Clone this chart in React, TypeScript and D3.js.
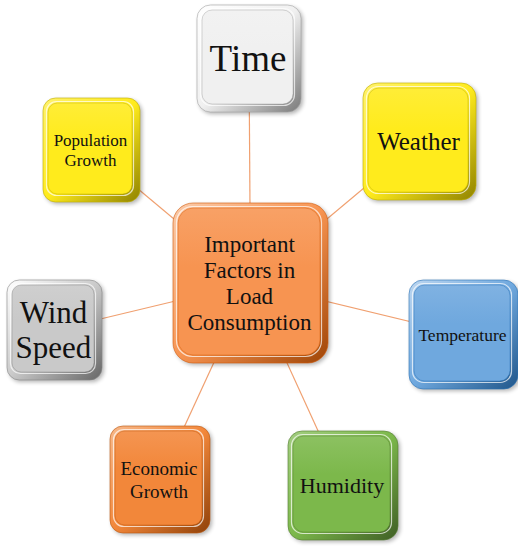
import React from 'react'
import * as d3 from 'd3'

// node labels (first one is the hub)
const labels = [
  ['Important', 'Factors in', 'Load', 'Consumption'],
  ['Time'],
  ['Weather'],
  ['Temperature'],
  ['Humidity'],
  ['Economic', 'Growth'],
  ['Wind', 'Speed'],
  ['Population', 'Growth']
]

const fills = ['#f79451', '#f0f0f0', '#ffeb1c', '#6fa8de', '#7cb84b', '#f2873a', '#c9c9c9', '#ffeb1c']

// box layout: x, y, w, h, font size, line height
const layout = [
  [173, 203, 155, 160, 23, 26],
  [197, 5, 104, 107, 37, 40],
  [363, 83, 113, 117, 25, 28],
  [409, 280, 109, 109, 17.5, 18],
  [288, 431, 110, 109, 22, 22],
  [110, 426, 100, 107, 19, 23],
  [7, 280, 95, 100, 31, 35],
  [43, 98, 97, 104, 17, 20]
]

const width = 518,
  height = 546

const nodes = labels.map((lines, i) => {
  const [x, y, w, h, fs, lh] = layout[i]
  return { lines, fill: fills[i], x, y, w, h, fs, lh, cx: x + w / 2, cy: y + h / 2 }
})

const Box = ({ d, i }) => {
  const light = d3.hsl(d.fill).brighter(0.7).formatHex()
  const dark = d3.hsl(d.fill).darker(1.1).formatHex()
  const darker = d3.hsl(d.fill).darker(1.9).formatHex()
  const faceTop = d3.interpolateRgb(d.fill, '#ffffff')(0.12)
  const r = Math.min(d.w, d.h) * 0.13
  const inset = { l: 5, t: 5, r: 8, b: 8 }
  const textY = d3
    .scaleLinear()
    .domain([0, d.lines.length - 1 || 1])
    .range([d.cy - ((d.lines.length - 1) * d.lh) / 2, d.cy + ((d.lines.length - 1) * d.lh) / 2])

  return (
    <g>
      <defs>
        <linearGradient id={`edge${i}`} x1='0' y1='0' x2='1' y2='1'>
          <stop offset='0' stopColor={light} />
          <stop offset='0.5' stopColor={d.fill} />
          <stop offset='1' stopColor={darker} />
        </linearGradient>
        <linearGradient id={`face${i}`} x1='0' y1='0' x2='0' y2='1'>
          <stop offset='0' stopColor={faceTop} />
          <stop offset='0.4' stopColor={d.fill} />
          <stop offset='1' stopColor={d.fill} />
        </linearGradient>
      </defs>
      <rect
        x={d.x + 2}
        y={d.y + 2}
        width={d.w}
        height={d.h}
        rx={r}
        fill='#000'
        opacity={0.3}
        filter='url(#blur)'
      />
      <rect x={d.x} y={d.y} width={d.w} height={d.h} rx={r} fill={`url(#edge${i})`} stroke={dark} strokeWidth={0.6} />
      <rect
        x={d.x + inset.l - 1.5}
        y={d.y + inset.t - 1.5}
        width={d.w - inset.l - inset.r + 3}
        height={d.h - inset.t - inset.b + 3}
        rx={r * 0.8}
        fill='none'
        stroke='#ffffff'
        strokeOpacity={0.7}
        strokeWidth={1.2}
      />
      <rect
        x={d.x + inset.l}
        y={d.y + inset.t}
        width={d.w - inset.l - inset.r}
        height={d.h - inset.t - inset.b}
        rx={r * 0.75}
        fill={`url(#face${i})`}
        stroke={dark}
        strokeOpacity={0.55}
        strokeWidth={0.8}
      />
      {d.lines.map((t, k) => (
        <text
          key={k}
          x={d.cx - 1}
          y={textY(k)}
          dy='0.35em'
          textAnchor='middle'
          fontFamily='"Liberation Serif", "Times New Roman", serif'
          fontSize={d.fs}
          fill='#111'>
          {t}
        </text>
      ))}
    </g>
  )
}

export default function App() {
  const hub = nodes[0]
  return (
    <svg
      width={width}
      height={height}
      style={{ position: 'absolute', left: 0, top: 0, background: '#fff' }}>
      <defs>
        <filter id='blur' x='-10%' y='-10%' width='130%' height='130%'>
          <feGaussianBlur stdDeviation='2' />
        </filter>
      </defs>
      {nodes.slice(1).map((d, i) => (
        <line
          key={i}
          x1={hub.cx}
          y1={hub.cy}
          x2={d.cx}
          y2={d.cy}
          stroke='#f0a070'
          strokeWidth={1.2}
        />
      ))}
      {nodes.map((d, i) => (
        <Box key={i} d={d} i={i} />
      ))}
    </svg>
  )
}
